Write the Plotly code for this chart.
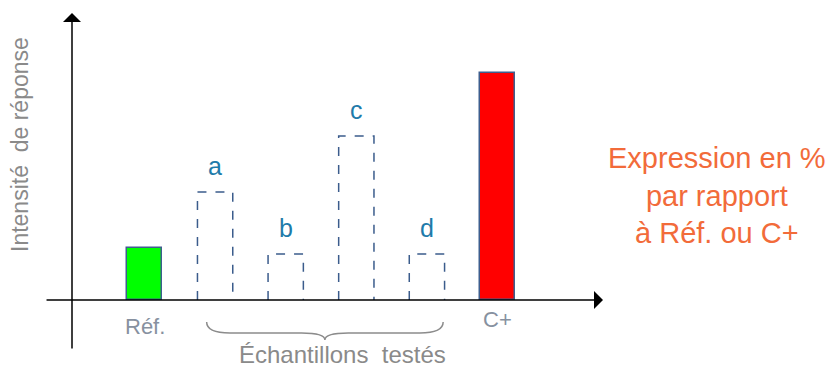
import plotly.graph_objects as go

# ---- data ----
categories = ["Réf.", "a", "b", "c", "d", "C+"]
values = [52, 108, 46, 164, 46, 227]
solid_colors = {"Réf.": "#00FF00", "C+": "#FF0000"}
tick_labels = {"Réf.": "Réf.", "C+": "C+"}
sample_labels = ["a", "b", "c", "d"]
x_title = "Échantillons  testés"
y_title = "Intensité  de réponse"
side_note = "Expression en %<br>par rapport<br>à Réf. ou C+"

FONT = "Liberation Sans, Arial, sans-serif"
BORDER = "#3E5E8E"
DASH = "#3B5C8C"
LABEL = "#1F7BAA"
GRAY = "#8A8A8A"
TICK = "#8791A0"
ORANGE = "#F26B3A"
W = 0.5

fig = go.Figure()
pos = {c: i for i, c in enumerate(categories)}

for c, v in zip(categories, values):
    i = pos[c]
    if c in solid_colors:
        fig.add_trace(go.Bar(x=[i], y=[v], width=W,
                             marker=dict(color=solid_colors[c], line=dict(color=BORDER, width=1.5)),
                             showlegend=False, hoverinfo="skip"))
    else:
        fig.add_trace(go.Scatter(x=[i - W / 2, i - W / 2, i + W / 2, i + W / 2],
                                 y=[0, v, v, 0], mode="lines",
                                 line=dict(color=DASH, width=1.5, dash="dash"),
                                 showlegend=False, hoverinfo="skip"))

annotations = []
for c, v in zip(categories, values):
    if c in sample_labels:
        annotations.append(dict(x=pos[c], y=v, xref="x", yref="y", text=c, showarrow=False,
                                xanchor="center", yanchor="bottom", yshift=10,
                                font=dict(family=FONT, size=25, color=LABEL)))
for c, lab in tick_labels.items():
    annotations.append(dict(x=pos[c], y=0, xref="x", yref="y", text=lab, showarrow=False,
                            xanchor="center", yanchor="top", yshift=-(12 if c == "Réf." else 5),
                            font=dict(family=FONT, size=22, color=TICK)))

annotations.append(dict(x=6.494, y=0, ax=-1.409, ay=0, xref="x", yref="y", axref="x", ayref="y",
                        text="", showarrow=True, arrowhead=1, arrowsize=2, arrowwidth=1.5,
                        arrowcolor="#000000"))
annotations.append(dict(x=-1.027, y=287, ax=-1.027, ay=-50, xref="x", yref="y", axref="x", ayref="y",
                        text="", showarrow=True, arrowhead=1, arrowsize=2, arrowwidth=1.5,
                        arrowcolor="#000000"))

bx0, bx1 = 0.88, 4.23
mid = (bx0 + bx1) / 2
annotations.append(dict(x=mid, y=-0.0147, xref="x", yref="paper", text=x_title, showarrow=False,
                        xanchor="center", yanchor="middle", xshift=18,
                        font=dict(family=FONT, size=24, color=GRAY)))
annotations.append(dict(x=0.0144, y=0.603, xref="paper", yref="paper", text=y_title, showarrow=False,
                        xanchor="center", yanchor="middle",
                        textangle=-90, font=dict(family=FONT, size=23, color=GRAY)))
annotations.append(dict(x=0.850, y=0.453, xref="paper", yref="paper", text=side_note, showarrow=False,
                        xanchor="center", yanchor="middle",
                        align="center", font=dict(family=FONT, size=29, color=ORANGE)))

d = 0.33
brace = (f"M {bx0},-22 Q {bx0},-33 {bx0 + d},-33 L {mid - d},-33 Q {mid},-33 {mid},-40 "
         f"Q {mid},-33 {mid + d},-33 L {bx1 - d},-33 Q {bx1},-33 {bx1},-22")

fig.update_layout(
    width=834, height=370,
    margin=dict(l=0, r=0, t=2, b=28),
    paper_bgcolor="white", plot_bgcolor="white",
    xaxis=dict(range=[-1.9334, 9.879], visible=False, fixedrange=True),
    yaxis=dict(range=[-50, 290], visible=False, fixedrange=True),
    annotations=annotations,
    shapes=[dict(type="path", path=brace, xref="x", yref="y",
                 line=dict(color="#8C8C8C", width=1.5))],
    bargap=0,
)

fig.write_html("out.html")
